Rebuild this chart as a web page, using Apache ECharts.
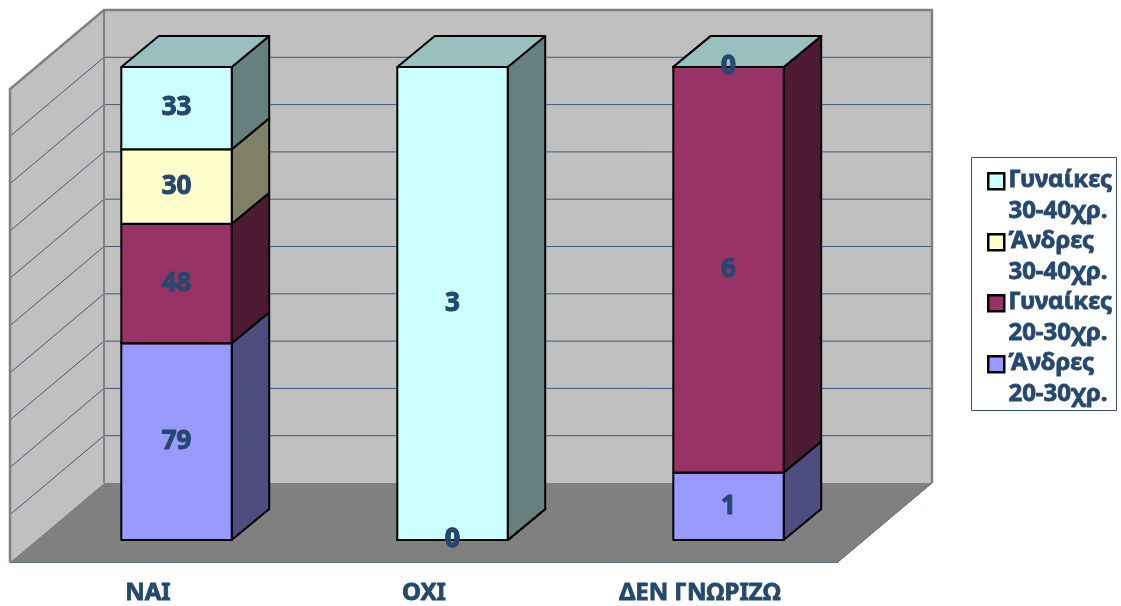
<!DOCTYPE html>
<html>
<head>
<meta charset="utf-8">
<script src="https://cdn.jsdelivr.net/npm/echarts@6/dist/echarts.min.js"></script>
<style>
  html, body { margin: 0; padding: 0; background: #ffffff; }
  #chart { width: 1121px; height: 606px; }
</style>
</head>
<body>
<div id="chart"></div>
<script>
// Answers per group (counts)
const categories = ['ΝΑΙ', 'ΟΧΙ', 'ΔΕΝ ΓΝΩΡΙΖΩ'];
const seriesNames = ['Άνδρες 20-30χρ.', 'Γυναίκες 20-30χρ.', 'Άνδρες 30-40χρ.', 'Γυναίκες 30-40χρ.'];
const men2030 = [79, 0, 1];
const women2030 = [48, 0, 6];
const men3040 = [30, 0, 0];
const women3040 = [33, 3, 0];
const percentTicks = [10, 20, 30, 40, 50, 60, 70, 80, 90];

const groups = [men2030, women2030, men3040, women3040];
const colors = ['#9999FF', '#993366', '#FFFFCC', '#CCFFFF'];

const FONT = '"Noto Sans", "DejaVu Sans", sans-serif';
const TEXT_COLOR = '#25486E';

// Oblique projection: full depth of the box, and the front/back offsets of the bars inside it
const DEPTH = [94, -79];
const BAR_FRONT = [28.5, -22];
const BAR_BACK = [66, -53];
const BAR_RATIO = 0.4;

function shade(hex, k) {
  const n = parseInt(hex.slice(1), 16);
  const r = Math.round(((n >> 16) & 255) * k);
  const g = Math.round(((n >> 8) & 255) * k);
  const b = Math.round((n & 255) * k);
  return 'rgb(' + r + ',' + g + ',' + b + ')';
}

// 100% stacking: each column is split by its share of the column total
const totals = categories.map((c, i) => groups.reduce((s, g) => s + g[i], 0));
function stackedData(k) {
  return categories.map((c, i) => {
    let below = 0;
    for (let j = 0; j < k; j++) below += groups[j][i];
    const lo = below / totals[i] * 100;
    const hi = (below + groups[k][i]) / totals[i] * 100;
    return [i, lo, hi, groups[k][i]];
  });
}

function renderWalls(params, api) {
  const band = api.size([1, 0])[0];
  const left = api.coord([0, 0])[0] - band / 2;
  const right = api.coord([categories.length - 1, 0])[0] + band / 2;
  const y0 = api.coord([0, 0])[1];
  const y100 = api.coord([0, 100])[1];
  const dx = DEPTH[0], dy = DEPTH[1];
  const wallFill = '#C0C0C0', edge = '#808080', gridColor = '#3F5B7E';
  const children = [
    { type: 'polygon', shape: { points: [[left, y0], [right, y0], [right + dx, y0 + dy], [left + dx, y0 + dy]] },
      style: { fill: '#808080', stroke: null } },
    { type: 'polygon', shape: { points: [[left + dx, y0 + dy], [right + dx, y0 + dy], [right + dx, y100 + dy], [left + dx, y100 + dy]] },
      style: { fill: wallFill, stroke: null } },
    { type: 'polygon', shape: { points: [[left, y0], [left + dx, y0 + dy], [left + dx, y100 + dy], [left, y100]] },
      style: { fill: wallFill, stroke: null } }
  ];
  percentTicks.forEach(v => {
    const y = api.coord([0, v])[1];
    children.push({ type: 'line', shape: { x1: left + dx, y1: y + dy, x2: right + dx, y2: y + dy },
      style: { stroke: gridColor, lineWidth: 1 } });
    children.push({ type: 'line', shape: { x1: left, y1: y, x2: left + dx, y2: y + dy },
      style: { stroke: gridColor, lineWidth: 1 } });
  });
  // wall outlines
  children.push({ type: 'polyline', shape: { points: [[left, y0], [left, y100], [left + dx, y100 + dy], [right + dx, y100 + dy], [right + dx, y0 + dy]] },
    style: { stroke: edge, lineWidth: 2.5, fill: null } });
  children.push({ type: 'line', shape: { x1: left + dx, y1: y0 + dy, x2: left + dx, y2: y100 + dy },
    style: { stroke: edge, lineWidth: 2 } });
  children.push({ type: 'line', shape: { x1: right, y1: y0, x2: right + dx, y2: y0 + dy },
    style: { stroke: '#4F6D8F', lineWidth: 1 } });
  return { type: 'group', children: children };
}

function renderBar(params, api) {
  const cat = api.value(0), lo = api.value(1), hi = api.value(2), raw = api.value(3);
  const band = api.size([1, 0])[0];
  const half = band * BAR_RATIO / 2;
  const base = api.coord([cat, lo]);
  const top = api.coord([cat, hi]);
  const bx = BAR_BACK[0] - BAR_FRONT[0], by = BAR_BACK[1] - BAR_FRONT[1];
  const x0 = base[0] - half + BAR_FRONT[0], x1 = base[0] + half + BAR_FRONT[0];
  const yb = base[1] + BAR_FRONT[1], yt = top[1] + BAR_FRONT[1];
  const color = colors[params.seriesIndex - 1];
  const line = { stroke: '#000000', lineWidth: 2, lineJoin: 'round' };
  return {
    type: 'group',
    children: [
      { type: 'polygon', shape: { points: [[x1, yb], [x1 + bx, yb + by], [x1 + bx, yt + by], [x1, yt]] },
        style: Object.assign({ fill: shade(color, 0.5) }, line) },
      { type: 'polygon', shape: { points: [[x0, yb], [x1, yb], [x1, yt], [x0, yt]] },
        style: Object.assign({ fill: color }, line) },
      { type: 'polygon', shape: { points: [[x0, yt], [x1, yt], [x1 + bx, yt + by], [x0 + bx, yt + by]] },
        style: Object.assign({ fill: shade(color, 0.75) }, line) },
      { type: 'text', x: (x0 + x1) / 2, y: (yb + yt) / 2, z2: 100,
        style: { text: String(raw), fill: TEXT_COLOR, font: 'bold 26px ' + FONT, align: 'center', verticalAlign: 'middle',
          stroke: TEXT_COLOR, lineWidth: 1 } }
    ]
  };
}

// Legend, listed from the top of the stack down
const legendItems = [];
const legendLeft = 971, legendTop = 157, step = 61;
legendItems.push({ type: 'rect', left: legendLeft, top: legendTop,
  shape: { width: 145, height: 253 }, style: { fill: '#ffffff', stroke: '#3A4D66', lineWidth: 1 } });
for (let k = seriesNames.length - 1, row = 0; k >= 0; k--, row++) {
  legendItems.push({ type: 'rect', left: legendLeft + 16, top: legendTop + 15 + row * step,
    shape: { width: 16, height: 16 }, style: { fill: colors[k], stroke: '#000000', lineWidth: 2.5 } });
  legendItems.push({ type: 'text', left: legendLeft + 37, top: legendTop + 8 + row * step,
    style: { text: seriesNames[k].replace(' ', '\n'), fill: TEXT_COLOR, font: 'bold 24px ' + FONT, lineHeight: 30.5,
      stroke: TEXT_COLOR, lineWidth: 0.8 } });
}

const series = [{
  type: 'custom', name: 'walls', coordinateSystem: 'cartesian2d', z: 1, silent: true,
  renderItem: renderWalls, data: [[0, 0]]
}];
seriesNames.forEach((name, k) => {
  series.push({
    type: 'custom', name: name, coordinateSystem: 'cartesian2d', z: 2,
    itemStyle: { color: colors[k] },
    renderItem: renderBar, encode: { x: 0, y: [1, 2] }, data: stackedData(k)
  });
});

const chart = echarts.init(document.getElementById('chart'), null, { renderer: 'canvas' });
chart.setOption({
  animation: false,
  backgroundColor: '#ffffff',
  grid: { left: 10, right: 283, top: 89, bottom: 44, containLabel: false },
  xAxis: {
    type: 'category', data: categories,
    axisLine: { lineStyle: { color: '#4F6D8F', width: 1 } },
    axisTick: { length: 8, lineStyle: { color: '#4F6D8F' } },
    axisLabel: { color: TEXT_COLOR, fontSize: 24, fontWeight: 'bold', fontFamily: FONT, margin: 19,
      textBorderColor: TEXT_COLOR, textBorderWidth: 0.8 },
    splitLine: { show: false }
  },
  yAxis: { type: 'value', min: 0, max: 100, interval: 10, show: false },
  graphic: legendItems,
  series: series
});
</script>
</body>
</html>
